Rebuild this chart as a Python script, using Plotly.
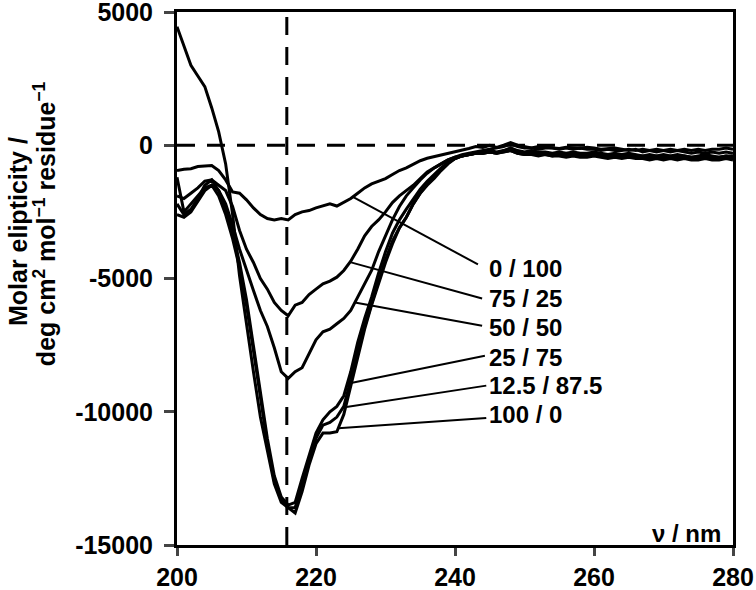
import plotly.graph_objects as go
import numpy as np

# ---- data ----
wavelength = list(range(200, 281))

s_0_100 = [-950, -900, -880, -800, -780, -760, -950, -1300, -1750, -1800,
           -2050, -2350, -2600, -2750, -2800, -2750, -2800, -2600, -2500, -2450,
           -2350, -2280, -2200, -2280, -2150, -2000, -1800, -1600, -1450, -1350,
           -1250, -1100, -950, -850, -700, -580, -490, -430, -380, -320,
           -260, -200, -120, -50, -80, 0, -80, 0, 100, 0,
           -50, -100, -50, -80, -100, -120, -80, -100, -120, -80,
           -100, -150, -120, -100, -150, -200, -150, -250, -200, -150,
           -200, -250, -200, -250, -300, -250, -300, -250, -300, -250, -300]

s_75_25 = [-1900, -2000, -1800, -1600, -1350, -1300, -1500, -1700, -2300, -3200,
           -3900, -4400, -5000, -5400, -5900, -6200, -6400, -6000, -5900, -5600,
           -5400, -5200, -5100, -4950, -4700, -4350, -3900, -3400, -3050, -2800,
           -2500, -2150, -1900, -1700, -1500, -1250, -1000, -850, -700, -550,
           -450, -350, -300, -250, -200, -150, -100, -50, 50, -50,
           -100, -100, -150, -100, -100, -150, -100, -150, -100, -150,
           -150, -200, -150, -200, -200, -150, -200, -150, -200, -250,
           -200, -150, -200, -150, -200, -150, -200, -150, -150, -100, -150]

s_50_50 = [-1200, -2500, -2200, -1900, -1600, -1500, -1700, -2200, -3000, -3900,
           -4700, -5450, -6200, -6800, -7600, -8500, -8750, -8500, -8350, -7800,
           -7300, -7000, -6900, -6700, -6500, -6200, -5700, -5200, -4700, -4000,
           -3400, -2800, -2300, -1900, -1600, -1300, -1050, -850, -700, -550,
           -450, -400, -350, -300, -250, -200, -250, -200, -100, -200,
           -250, -200, -250, -250, -300, -250, -300, -250, -300, -300,
           -250, -300, -350, -300, -350, -300, -350, -400, -350, -400,
           -350, -400, -350, -400, -450, -400, -350, -400, -450, -400, -400]

s_25_75 = [-2200, -2600, -2400, -2000, -1500, -1300, -1700, -2400, -3300, -4400,
           -5800, -7500, -9300, -11000, -12400, -13200, -13500, -13400, -12500, -11600,
           -10800, -10300, -10000, -9800, -9400, -8500, -7400, -6500, -5700, -4800,
           -4000, -3300, -2800, -2400, -2000, -1650, -1350, -1100, -850, -650,
           -500, -400, -350, -300, -300, -250, -300, -200, -150, -250,
           -300, -250, -300, -300, -350, -300, -350, -300, -350, -350,
           -300, -350, -400, -350, -400, -350, -400, -400, -450, -400,
           -450, -400, -450, -400, -450, -450, -400, -450, -450, -400, -450]

s_12_88 = [-2600, -2700, -2500, -2100, -1700, -1500, -1900, -2600, -3500, -4600,
           -6000, -7700, -9500, -11200, -12600, -13300, -13600, -13600, -12700, -11800,
           -11000, -10500, -10400, -10200, -9800, -8800, -7700, -6800, -5900, -5100,
           -4300, -3600, -3100, -2700, -2200, -1800, -1500, -1250, -950, -700,
           -500, -400, -350, -300, -300, -250, -300, -250, -200, -300,
           -350, -300, -350, -350, -400, -350, -400, -350, -400, -400,
           -350, -400, -450, -400, -450, -400, -450, -450, -500, -450,
           -500, -450, -500, -450, -500, -500, -450, -500, -500, -450, -500]

s_100_0 = [4450, 3750, 3000, 2600, 2200, 1400, 500, -700, -2600, -4900,
           -6800, -8500, -10200, -11500, -12700, -13400, -13600, -13800, -13000, -12000,
           -11200, -10800, -10800, -10750, -10100, -9000, -7900, -6900, -6000, -5200,
           -4400, -3700, -3100, -2700, -2200, -1800, -1450, -1200, -900, -650,
           -500, -400, -350, -300, -300, -250, -300, -250, -200, -300,
           -350, -350, -400, -350, -400, -400, -450, -400, -450, -450,
           -400, -450, -500, -450, -500, -450, -500, -500, -550, -500,
           -550, -500, -550, -500, -550, -550, -500, -550, -550, -500, -550]

series_names = ["0 / 100", "75 / 25", "50 / 50", "25 / 75", "12.5 / 87.5", "100 / 0"]
series_values = [s_0_100, s_75_25, s_50_50, s_25_75, s_12_88, s_100_0]

# label positions and where each leader touches its curve (nm)
label_x = 244.6
label_y = [-4620, -5750, -6840, -7970, -9020, -10110]
leader_end_x = [243.3, 243.9, 243.9, 244.3, 244.5, 244.5]
leader_end_y = [-4470, -5750, -6770, -7900, -9020, -10230]
leader_touch_nm = [225.3, 224.9, 225.6, 224.5, 223.9, 223.2]

x_ticks = [200, 220, 240, 260, 280]
y_ticks = [-15000, -10000, -5000, 0, 5000]
y_ticktext = ["-15000", "-10000", "-5000", "0", "5000"]
marker_nm = 215.8

y_title_1 = "Molar elipticity /"
y_title_2 = "deg cm<sup>2</sup> mol<sup>−1</sup> residue<sup>−1</sup>"

FONT = "Liberation Sans, Arial, sans-serif"

fig = go.Figure()
for name, vals in zip(series_names, series_values):
    fig.add_trace(go.Scatter(x=wavelength, y=vals, mode="lines", name=name,
                             line=dict(color="black", width=3), showlegend=False))

shapes = [
    dict(type="line", xref="x", yref="y", x0=200, x1=280, y0=0, y1=0,
         line=dict(color="black", width=3, dash="18px,12px"), layer="below"),
    dict(type="line", xref="x", yref="y", x0=marker_nm, x1=marker_nm, y0=-15000, y1=5000,
         line=dict(color="black", width=3, dash="18px,12px"), layer="below"),
]
annotations = []
for i, name in enumerate(series_names):
    ty = float(np.interp(leader_touch_nm[i], wavelength, series_values[i]))
    shapes.append(dict(type="line", xref="x", yref="y",
                       x0=leader_touch_nm[i], y0=ty, x1=leader_end_x[i], y1=leader_end_y[i],
                       line=dict(color="black", width=2)))
    annotations.append(dict(x=label_x, y=label_y[i], xref="x", yref="y", text=name,
                            showarrow=False, xanchor="left", yanchor="middle",
                            font=dict(family=FONT, size=24, color="black", weight="bold")))

annotations.append(dict(x=278.6, y=-14550, xref="x", yref="y", text="ν / nm",
                        showarrow=False, xanchor="right", yanchor="middle",
                        font=dict(family=FONT, size=24, color="black", weight="bold")))
annotations.append(dict(x=-0.2860, y=0.589, xref="paper", yref="paper", text=y_title_1,
                        showarrow=False, textangle=-90, xanchor="center", yanchor="middle",
                        font=dict(family=FONT, size=25, color="black", weight="bold")))
annotations.append(dict(x=-0.2374, y=0.602, xref="paper", yref="paper", text=y_title_2,
                        showarrow=False, textangle=-90, xanchor="center", yanchor="middle",
                        font=dict(family=FONT, size=25, color="black", weight="bold")))

fig.update_layout(
    width=756, height=590,
    margin=dict(l=177, r=23, t=12, b=45, autoexpand=False),
    paper_bgcolor="white", plot_bgcolor="white",
    shapes=shapes, annotations=annotations,
    xaxis=dict(range=[200, 280], tickvals=x_ticks, ticks="outside", ticklen=8, tickwidth=3,
               showline=True, linewidth=3, linecolor="black", mirror=True,
               showgrid=False, zeroline=False, automargin=False, ticklabeloverflow="allow",
               tickfont=dict(family=FONT, size=25, color="black", weight="bold")),
    yaxis=dict(range=[-15000, 5000], tickvals=y_ticks, ticktext=y_ticktext,
               ticks="outside", ticklen=10, tickwidth=3, ticklabelstandoff=6,
               showline=True, linewidth=3, linecolor="black", mirror=True,
               showgrid=False, zeroline=False, automargin=False, ticklabeloverflow="allow",
               tickfont=dict(family=FONT, size=25, color="black", weight="bold")),
)

# remove the browser's default 8px page margin so the figure sits at the window origin
fig.write_html("out.html", config={"displayModeBar": False},
               post_script="document.body.style.margin='0';")
